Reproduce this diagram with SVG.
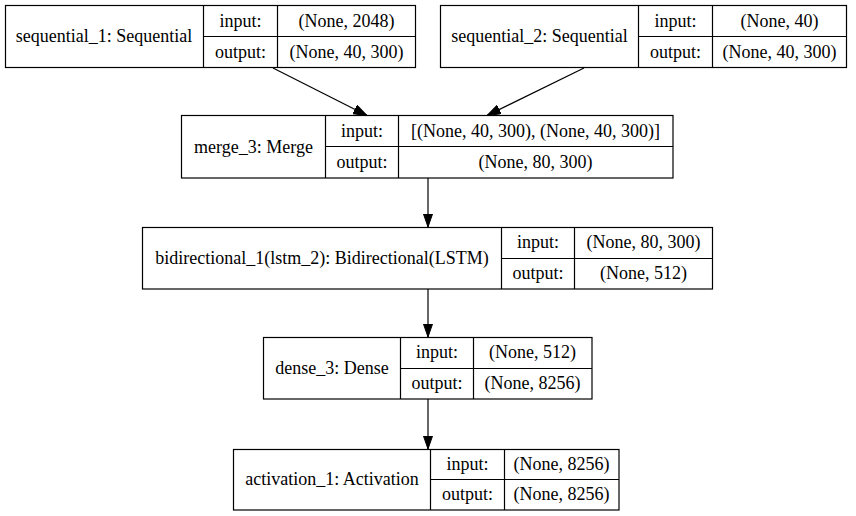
<svg xmlns="http://www.w3.org/2000/svg" width="856" height="516" viewBox="0 0 856 516">
<defs>
<style>
.box{fill:#fff;stroke:#000;stroke-width:1.2}
.sep{stroke:#000;stroke-width:1.2}
text{font-family:"Liberation Serif","Times New Roman",serif;font-size:18px;fill:#000;text-anchor:middle}
.edge{stroke:#000;stroke-width:1.2;fill:none}
</style>
<marker id="arr" markerUnits="userSpaceOnUse" markerWidth="14" markerHeight="10" refX="13.5" refY="4.7" orient="auto">
<path d="M0,0 L13.5,4.7 L0,9.4 z" fill="#000" stroke="#000" stroke-width="1"/>
</marker>
</defs>
<rect width="856" height="516" fill="#fff"/>
<g id="connectors">
<line class="edge" x1="273" y1="68" x2="367" y2="115.5" marker-end="url(#arr)"/>
<line class="edge" x1="584" y1="68" x2="487" y2="115.5" marker-end="url(#arr)"/>
<line class="edge" x1="428" y1="178" x2="428" y2="227" marker-end="url(#arr)"/>
<line class="edge" x1="428" y1="289" x2="428" y2="337" marker-end="url(#arr)"/>
<line class="edge" x1="428" y1="399" x2="428" y2="449" marker-end="url(#arr)"/>
</g>
<g id="sequential_1">
<rect class="box" x="5.5" y="5.5" width="410" height="62"/>
<line class="sep" x1="203.5" y1="5.5" x2="203.5" y2="67.5"/>
<line class="sep" x1="277.5" y1="5.5" x2="277.5" y2="67.5"/>
<line class="sep" x1="203.5" y1="36.5" x2="415.5" y2="36.5"/>
<text x="104" y="42">sequential_1: Sequential</text>
<text x="240.5" y="26.5">input:</text>
<text x="346.5" y="26.5">(None, 2048)</text>
<text x="240.5" y="57.5">output:</text>
<text x="346.5" y="57.5">(None, 40, 300)</text>
</g>
<g id="sequential_2">
<rect class="box" x="440.5" y="5.5" width="406" height="62"/>
<line class="sep" x1="638.5" y1="5.5" x2="638.5" y2="67.5"/>
<line class="sep" x1="712.5" y1="5.5" x2="712.5" y2="67.5"/>
<line class="sep" x1="638.5" y1="36.5" x2="846.5" y2="36.5"/>
<text x="539.5" y="42">sequential_2: Sequential</text>
<text x="675.5" y="26.5">input:</text>
<text x="779.5" y="26.5">(None, 40)</text>
<text x="675.5" y="57.5">output:</text>
<text x="779.5" y="57.5">(None, 40, 300)</text>
</g>
<g id="merge_3">
<rect class="box" x="181.5" y="115.5" width="491.5" height="62.5"/>
<line class="sep" x1="325.5" y1="115.5" x2="325.5" y2="178"/>
<line class="sep" x1="398.5" y1="115.5" x2="398.5" y2="178"/>
<line class="sep" x1="325.5" y1="146.5" x2="673" y2="146.5"/>
<text x="253.5" y="152.5">merge_3: Merge</text>
<text x="362" y="136.5">input:</text>
<text x="535.5" y="136.5">[(None, 40, 300), (None, 40, 300)]</text>
<text x="362" y="167.5">output:</text>
<text x="535.5" y="167.5">(None, 80, 300)</text>
</g>
<g id="bidirectional_1">
<rect class="box" x="142.5" y="227.5" width="570" height="61.5"/>
<line class="sep" x1="501.5" y1="227.5" x2="501.5" y2="289"/>
<line class="sep" x1="574.5" y1="227.5" x2="574.5" y2="289"/>
<line class="sep" x1="501.5" y1="258.5" x2="712.5" y2="258.5"/>
<text x="322" y="264">bidirectional_1(lstm_2): Bidirectional(LSTM)</text>
<text x="538" y="248">input:</text>
<text x="643.5" y="248">(None, 80, 300)</text>
<text x="538" y="279">output:</text>
<text x="643.5" y="279">(None, 512)</text>
</g>
<g id="dense_3">
<rect class="box" x="263.5" y="337.5" width="328.5" height="61.5"/>
<line class="sep" x1="400.5" y1="337.5" x2="400.5" y2="399"/>
<line class="sep" x1="473.5" y1="337.5" x2="473.5" y2="399"/>
<line class="sep" x1="400.5" y1="368.5" x2="592" y2="368.5"/>
<text x="332" y="374">dense_3: Dense</text>
<text x="437" y="358">input:</text>
<text x="532.5" y="358">(None, 512)</text>
<text x="437" y="389">output:</text>
<text x="532.5" y="389">(None, 8256)</text>
</g>
<g id="activation_1">
<rect class="box" x="233.5" y="449.5" width="385.5" height="60.5"/>
<line class="sep" x1="430.5" y1="449.5" x2="430.5" y2="510"/>
<line class="sep" x1="504.5" y1="449.5" x2="504.5" y2="510"/>
<line class="sep" x1="430.5" y1="479.5" x2="619" y2="479.5"/>
<text x="332" y="485">activation_1: Activation</text>
<text x="467.5" y="469.5">input:</text>
<text x="561.5" y="469.5">(None, 8256)</text>
<text x="467.5" y="500">output:</text>
<text x="561.5" y="500">(None, 8256)</text>
</g>
</svg>
